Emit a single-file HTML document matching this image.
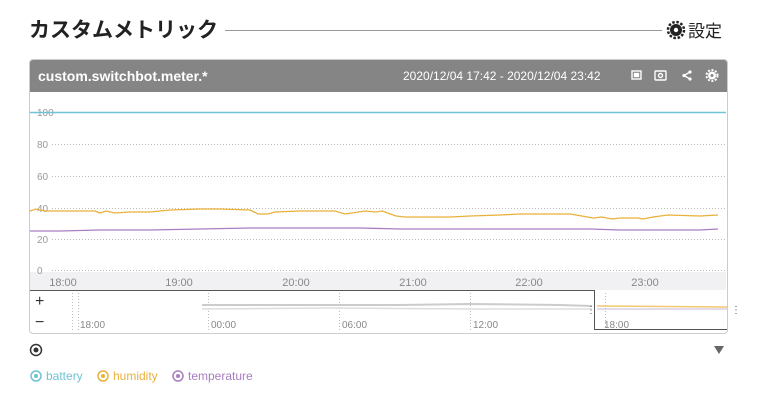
<!DOCTYPE html>
<html><head><meta charset="utf-8"><style>
body{margin:0;width:758px;height:400px;background:#fff;font-family:"Liberation Sans","Noto Sans CJK JP",sans-serif;position:relative;overflow:hidden}
.a{position:absolute}
</style></head><body>
<div class="a" style="left:29px;top:14px;font-size:21px;font-weight:bold;color:#222;font-family:'Noto Sans CJK JP',sans-serif">カスタムメトリック</div>
<div class="a" style="left:225px;top:30px;width:437px;height:1px;background:#999"></div>
<div class="a" style="left:688px;top:17px;font-size:17px;color:#222;font-family:'Noto Sans CJK JP',sans-serif">設定</div>
<div class="a" style="left:29px;top:59px;width:697px;height:273px;border:1px solid #ccc;border-radius:4px;overflow:hidden">
 <div class="a" style="left:0;top:0;width:697px;height:32px;background:#858585;color:#fff">
  <div class="a" style="left:8px;top:8px;font-size:14px;font-weight:bold">custom.switchbot.meter.*</div>
  <div class="a" style="left:373px;top:9px;font-size:12px">2020/12/04 17:42 - 2020/12/04 23:42</div>
 </div>
</div>
<svg class="a" style="left:0;top:0" width="758" height="400" font-family="Liberation Sans,sans-serif">
 <!-- settings gear -->
 <circle cx="676" cy="30" r="6" fill="#222"/><circle cx="676" cy="30" r="8" fill="none" stroke="#222" stroke-width="2.5" stroke-dasharray="2.5,1.7"/><circle cx="676" cy="30" r="2.2" fill="#fff"/>
 <!-- header icons -->
 <g stroke="#fff" fill="none" stroke-width="1.4">
  <rect x="632" y="71" width="9" height="8"/><rect x="634.5" y="73.5" width="4" height="3" fill="#fff"/>
  <rect x="655" y="71" width="11" height="9" rx="1"/><circle cx="660.5" cy="75.5" r="2"/>
  <polyline points="690,72 684,75.5 690,79"/>
 </g>
 <circle cx="690" cy="72" r="1.6" fill="#fff"/><circle cx="684" cy="75.5" r="1.6" fill="#fff"/><circle cx="690" cy="79" r="1.6" fill="#fff"/>
 <circle cx="712" cy="75.5" r="4" fill="#fff"/><circle cx="712" cy="75.5" r="5.5" fill="none" stroke="#fff" stroke-width="2" stroke-dasharray="2,1.6"/><circle cx="712" cy="75.5" r="1.5" fill="#858585"/>
 <rect x="30" y="272" width="696" height="18" fill="#f1f1f3"/>
 <g stroke="#bbb" stroke-dasharray="1,2" stroke-width="1">
  <line x1="52" y1="144.5" x2="726" y2="144.5"/><line x1="52" y1="176.5" x2="726" y2="176.5"/>
  <line x1="52" y1="208.5" x2="726" y2="208.5"/><line x1="52" y1="239.5" x2="726" y2="239.5"/>
  <line x1="52" y1="270.5" x2="726" y2="270.5"/>
  <line x1="72.5" y1="293" x2="72.5" y2="332"/><line x1="208.5" y1="293" x2="208.5" y2="332"/>
  <line x1="339.5" y1="293" x2="339.5" y2="332"/><line x1="470.5" y1="293" x2="470.5" y2="332"/>
  <line x1="605.5" y1="293" x2="605.5" y2="332"/><line x1="78.5" y1="293" x2="78.5" y2="332"/>
 </g>
 <g font-size="10" fill="#999">
  <text x="37" y="116">100</text><text x="37" y="148">80</text><text x="37" y="180">60</text>
  <text x="37" y="212">40</text><text x="37" y="243">20</text><text x="37" y="274">0</text>
 </g>
 <g font-size="11" fill="#888" text-anchor="middle">
  <text x="63" y="286">18:00</text><text x="179" y="286">19:00</text><text x="296" y="286">20:00</text>
  <text x="413" y="286">21:00</text><text x="529" y="286">22:00</text><text x="645" y="286">23:00</text>
 </g>
 <line x1="30" y1="112.5" x2="726" y2="112.5" stroke="#6fc3d6" stroke-width="1.5"/>
 <polyline fill="none" stroke="#e9b13a" stroke-width="1.3" points="30,211 36,209 45,211 95,211 100,213 106,211 115,213 130,212 150,212 170,210 200,209 220,209 250,210 258,214 268,214 275,212 300,211 335,211 345,214 352,213 365,211 376,212 382,211 396,216 405,217 430,217 450,217 470,216 500,215 520,214 570,214 582,216 593,218 602,217 612,219 620,218 638,218 643,219 653,217 668,215 700,216 718,215"/>
 <polyline fill="none" stroke="#a97dc0" stroke-width="1.3" points="30,231 60,231 100,230 150,230 200,229 250,228 300,228 360,228 400,229 450,229 500,229 560,229 590,229 620,230 660,230 700,230 718,229"/>
 <text x="35" y="306" font-size="16" fill="#333">+</text>
 <text x="35" y="327" font-size="16" fill="#333">−</text>
 <polyline fill="none" stroke="#555" stroke-width="1" points="30,290.5 594.5,290.5 594.5,329.5 727,329.5"/>
 <polyline fill="none" stroke="#ccc" stroke-width="2" points="202,305 300,305 400,305 470,304 560,305 592,306"/>
 <polyline fill="none" stroke="#ddd" stroke-width="1.5" points="202,309 330,308 470,309 592,309"/>
 <polyline fill="none" stroke="#f0c870" stroke-width="1.5" points="597,306 727,307"/>
 <polyline fill="none" stroke="#c7b5d4" stroke-width="1" points="597,309 727,309"/>
 <text x="586" y="313" font-size="10" fill="#555">⋮</text><text x="731" y="313" font-size="10" fill="#555">⋮</text>
 <g font-size="10" fill="#888">
  <text x="80" y="328">18:00</text><text x="211" y="328">00:00</text><text x="342" y="328">06:00</text>
  <text x="473" y="328">12:00</text><text x="604" y="328">18:00</text>
 </g>
 <circle cx="36" cy="350" r="5.5" fill="none" stroke="#333" stroke-width="1.5"/><circle cx="36" cy="350" r="2.5" fill="#333"/>
 <polygon points="714,346 724,346 719,354" fill="#666"/>
 <circle cx="36" cy="376" r="5" fill="none" stroke="#6fc3d6" stroke-width="1.5"/><circle cx="36" cy="376" r="2" fill="#6fc3d6"/>
 <text x="46" y="380" font-size="12" fill="#6fc3d6">battery</text>
 <circle cx="103" cy="376" r="5" fill="none" stroke="#e9b13a" stroke-width="1.5"/><circle cx="103" cy="376" r="2" fill="#e9b13a"/>
 <text x="113" y="380" font-size="12" fill="#e9b13a">humidity</text>
 <circle cx="178" cy="376" r="5" fill="none" stroke="#a97dc0" stroke-width="1.5"/><circle cx="178" cy="376" r="2" fill="#a97dc0"/>
 <text x="188" y="380" font-size="12" fill="#a97dc0">temperature</text>
</svg>
</body></html>
